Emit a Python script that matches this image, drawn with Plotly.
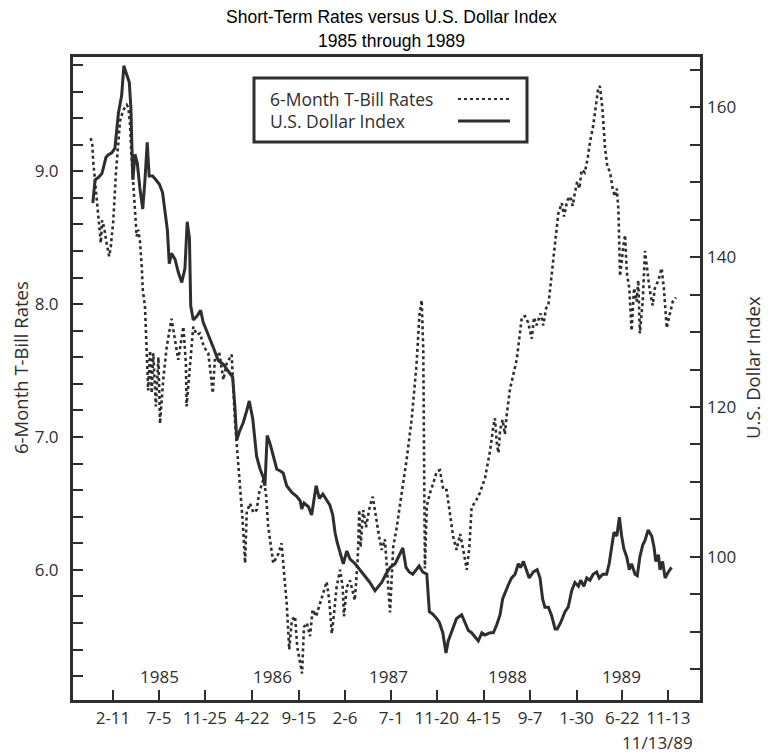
import plotly.graph_objects as go

# ---------------- data ----------------
dollar_dates = ["1984-12-10","1984-12-17","1984-12-27","1985-01-07","1985-01-12","1985-01-20","1985-01-27","1985-02-07","1985-02-17","1985-02-28","1985-03-10","1985-03-17","1985-03-26","1985-04-03","1985-04-08","1985-04-14","1985-04-21","1985-04-28","1985-05-06","1985-05-15","1985-05-22","1985-05-29","1985-06-04","1985-06-15","1985-06-25","1985-07-06","1985-07-16","1985-07-24","1985-07-31","1985-08-06","1985-08-13","1985-08-24","1985-09-03","1985-09-14","1985-09-24","1985-10-01","1985-10-08","1985-10-12","1985-10-20","1985-10-31","1985-11-12","1985-11-20","1985-12-01","1985-12-11","1985-12-22","1986-01-06","1986-01-22","1986-02-06","1986-02-20","1986-02-27","1986-03-05","1986-03-13","1986-03-25","1986-04-05","1986-04-13","1986-04-24","1986-05-06","1986-05-17","1986-05-27","1986-06-01","1986-06-08","1986-06-17","1986-06-27","1986-07-08","1986-07-18","1986-07-28","1986-08-08","1986-08-24","1986-09-08","1986-09-19","1986-09-24","1986-10-01","1986-10-15","1986-10-25","1986-11-08","1986-11-18","1986-11-29","1986-12-11","1986-12-21","1986-12-30","1987-01-06","1987-01-13","1987-01-22","1987-02-01","1987-02-12","1987-02-22","1987-03-10","1987-03-25","1987-04-10","1987-04-25","1987-05-11","1987-05-21","1987-06-01","1987-06-14","1987-06-27","1987-07-13","1987-07-26","1987-08-06","1987-08-16","1987-08-26","1987-09-06","1987-09-16","1987-09-26","1987-10-07","1987-10-20","1987-10-28","1987-11-07","1987-11-18","1987-11-28","1987-12-09","1987-12-19","1987-12-26","1988-01-09","1988-01-21","1988-02-06","1988-02-16","1988-02-27","1988-03-08","1988-03-19","1988-03-29","1988-04-09","1988-04-19","1988-05-05","1988-05-15","1988-05-26","1988-06-05","1988-06-13","1988-06-20","1988-07-01","1988-07-11","1988-07-22","1988-08-01","1988-08-08","1988-08-17","1988-08-27","1988-09-04","1988-09-17","1988-09-29","1988-10-08","1988-10-16","1988-10-23","1988-11-03","1988-11-13","1988-11-24","1988-12-01","1988-12-12","1988-12-25","1989-01-04","1989-01-15","1989-01-25","1989-02-05","1989-02-12","1989-02-22","1989-03-03","1989-03-13","1989-03-23","1989-04-03","1989-04-11","1989-04-22","1989-05-04","1989-05-12","1989-05-20","1989-05-27","1989-06-05","1989-06-13","1989-06-20","1989-06-27","1989-07-06","1989-07-14","1989-07-21","1989-08-01","1989-08-08","1989-08-16","1989-08-25","1989-09-01","1989-09-11","1989-09-22","1989-09-29","1989-10-05","1989-10-13","1989-10-18","1989-10-26","1989-11-03","1989-11-13","1989-11-23"]
dollar_index = [147.2,150.3,150.6,151.1,151.9,153.3,153.6,153.9,154.5,159.2,161.5,165.5,164.3,163.3,159.8,150.3,153.7,152.5,149.2,146.4,150.3,155.3,150.8,150.8,150.3,149.7,148.6,145.8,143.6,139.1,140.5,139.7,138.0,136.6,138.5,144.7,142.5,133.5,131.6,132.1,132.9,131.3,130.2,129.0,127.9,126.2,125.7,124.8,124.0,120.1,115.6,116.7,117.9,119.5,120.8,118.4,113.4,111.7,110.6,109.5,116.2,115.1,113.4,111.7,111.5,111.2,109.5,108.6,108.1,107.5,106.4,107.2,106.7,105.6,109.5,107.8,108.4,107.5,106.9,105.6,103.3,101.9,100.5,99.1,100.8,99.7,99.1,98.3,97.5,96.6,95.5,96.1,96.6,97.7,98.6,99.1,100.3,101.2,98.6,98.0,97.7,98.3,98.8,98.0,97.7,92.7,92.4,91.9,91.3,89.9,87.2,88.8,90.5,91.8,92.3,91.3,90.2,89.9,89.4,88.8,89.9,89.6,89.9,89.9,91.0,92.3,94.4,95.2,96.3,97.2,97.7,99.1,98.6,99.4,98.3,97.2,98.0,98.3,97.2,94.4,93.3,93.3,92.2,90.4,90.4,91.3,92.7,93.3,95.5,96.6,96.1,96.9,96.1,97.2,96.9,97.7,98.0,97.2,97.7,97.7,99.1,101.6,103.3,102.8,105.3,102.8,101.1,100.0,98.3,99.1,97.7,97.5,100.0,101.6,102.2,103.6,102.8,101.4,99.4,100.3,98.3,99.4,97.2,98.0,98.6]

tbill_dates = ["1984-12-03","1984-12-08","1984-12-11","1984-12-17","1984-12-24","1984-12-30","1985-01-04","1985-01-08","1985-01-14","1985-01-22","1985-01-30","1985-02-04","1985-02-12","1985-02-20","1985-02-28","1985-03-05","1985-03-15","1985-03-26","1985-03-31","1985-04-05","1985-04-10","1985-04-15","1985-04-21","1985-04-26","1985-05-01","1985-05-06","1985-05-12","1985-05-15","1985-05-22","1985-05-27","1985-06-01","1985-06-07","1985-06-12","1985-06-17","1985-06-25","1985-07-03","1985-07-08","1985-07-18","1985-07-29","1985-08-13","1985-08-24","1985-09-03","1985-09-19","1985-09-27","1985-09-29","1985-10-10","1985-10-20","1985-10-31","1985-11-10","1985-11-22","1985-12-06","1985-12-20","1985-12-27","1986-01-09","1986-01-22","1986-02-01","1986-02-17","1986-02-27","1986-03-10","1986-03-23","1986-03-31","1986-04-05","1986-04-15","1986-04-26","1986-05-06","1986-05-14","1986-05-27","1986-06-04","1986-06-11","1986-06-17","1986-06-27","1986-07-13","1986-07-23","1986-07-31","1986-08-08","1986-08-16","1986-08-24","1986-09-03","1986-09-10","1986-09-19","1986-09-25","1986-10-01","1986-10-10","1986-10-20","1986-10-28","1986-11-08","1986-11-20","1986-11-30","1986-12-11","1986-12-19","1986-12-27","1987-01-03","1987-01-11","1987-01-22","1987-01-30","1987-02-03","1987-02-12","1987-02-22","1987-03-02","1987-03-09","1987-03-18","1987-03-23","1987-03-27","1987-04-04","1987-04-13","1987-04-25","1987-05-04","1987-05-14","1987-05-24","1987-06-01","1987-06-11","1987-06-22","1987-06-27","1987-07-07","1987-07-18","1987-08-02","1987-08-18","1987-09-03","1987-09-18","1987-09-27","1987-10-04","1987-10-09","1987-10-11","1987-10-14","1987-10-20","1987-10-30","1987-11-09","1987-11-20","1987-11-30","1987-12-11","1987-12-21","1987-12-31","1988-01-11","1988-01-21","1988-02-01","1988-02-11","1988-02-22","1988-03-01","1988-03-08","1988-03-22","1988-04-03","1988-04-19","1988-05-05","1988-05-15","1988-05-20","1988-05-26","1988-05-31","1988-06-05","1988-06-13","1988-06-20","1988-06-26","1988-07-06","1988-07-16","1988-07-27","1988-08-04","1988-08-12","1988-08-22","1988-09-01","1988-09-12","1988-09-19","1988-09-27","1988-10-10","1988-10-18","1988-10-27","1988-11-03","1988-11-13","1988-11-24","1988-12-04","1988-12-15","1988-12-22","1989-01-01","1989-01-10","1989-01-18","1989-01-25","1989-02-01","1989-02-08","1989-02-15","1989-02-25","1989-03-06","1989-03-13","1989-03-23","1989-04-01","1989-04-08","1989-04-13","1989-04-21","1989-04-29","1989-05-06","1989-05-15","1989-05-23","1989-05-30","1989-06-05","1989-06-10","1989-06-15","1989-06-25","1989-07-01","1989-07-06","1989-07-14","1989-07-21","1989-07-29","1989-08-06","1989-08-11","1989-08-16","1989-08-25","1989-09-01","1989-09-06","1989-09-15","1989-09-25","1989-10-02","1989-10-13","1989-10-23","1989-10-30","1989-11-08","1989-11-18","1989-11-27","1989-12-07"]
tbill_rates = [9.25,9.21,9.08,8.93,8.73,8.58,8.46,8.63,8.58,8.46,8.36,8.43,8.63,8.98,9.26,9.38,9.46,9.50,9.48,9.36,9.11,8.93,8.68,8.51,8.56,8.48,8.28,8.11,7.98,7.68,7.35,7.65,7.33,7.63,7.23,7.60,7.10,7.43,7.68,7.89,7.73,7.58,7.83,7.55,7.23,7.55,7.83,7.77,7.78,7.68,7.63,7.33,7.60,7.64,7.43,7.55,7.62,7.13,6.78,6.38,6.05,6.43,6.50,6.43,6.45,6.58,6.68,6.58,6.33,6.23,6.05,6.12,6.20,5.97,5.75,5.40,5.62,5.65,5.42,5.30,5.22,5.57,5.60,5.50,5.70,5.65,5.75,5.82,5.91,5.77,5.52,5.67,5.87,6.00,5.87,5.65,5.87,5.92,5.85,5.77,6.08,6.45,6.17,6.45,6.32,6.48,6.55,6.39,6.25,6.15,6.23,5.85,5.68,6.17,6.32,6.57,6.83,7.14,7.55,7.92,8.03,7.65,7.10,6.01,6.48,6.58,6.65,6.74,6.75,6.60,6.60,6.42,6.24,6.15,6.27,6.15,6.00,6.17,6.47,6.52,6.58,6.69,6.90,7.08,7.14,6.95,6.88,7.05,7.13,7.02,7.17,7.36,7.46,7.58,7.74,7.90,7.91,7.86,7.74,7.90,7.84,7.93,7.84,7.97,7.99,8.24,8.46,8.68,8.76,8.66,8.78,8.81,8.74,8.84,8.92,8.87,9.01,8.99,9.10,9.22,9.34,9.50,9.63,9.64,9.47,9.18,9.04,8.99,8.87,8.81,8.87,8.71,8.21,8.43,8.52,8.24,8.12,7.80,8.12,8.02,8.18,7.78,8.02,8.40,8.30,8.12,7.99,8.12,8.18,8.27,8.12,7.82,7.93,8.02,8.05]

assert len(dollar_dates) == len(dollar_index)
assert len(tbill_dates) == len(tbill_rates)

x_tick_dates = ["1985-02-11","1985-07-05","1985-11-25","1986-04-22","1986-09-15","1987-02-06","1987-07-01",
                "1987-11-20","1988-04-15","1988-09-07","1989-01-30","1989-06-22","1989-11-13"]
x_tick_labels = ["2-11","7-5","11-25","4-22","9-15","2-6","7-1","11-20","4-15","9-7","1-30","6-22","11-13"]
year_labels = ["1985","1986","1987","1988","1989"]
year_label_dates = ["1985-07-05","1986-06-26","1987-06-21","1988-06-27","1989-06-21"]
left_ticks = [6.0, 7.0, 8.0, 9.0]
right_ticks = [100, 120, 140, 160]

INK = "#2e2e2e"
SANS = "Open Sans, Noto Sans, sans-serif"
TICK_FONT = dict(family=SANS, size=17, color=INK)
AXIS_TITLE_FONT = dict(family=SANS, size=18.5, color=INK)

fig = go.Figure()
fig.add_trace(go.Scatter(x=tbill_dates, y=tbill_rates, mode="lines", name="6-Month T-Bill Rates",
                         line=dict(color=INK, width=2.6, dash="dot"), yaxis="y"))
fig.add_trace(go.Scatter(x=dollar_dates, y=dollar_index, mode="lines", name="U.S. Dollar Index",
                         line=dict(color=INK, width=3), yaxis="y2"))

fig.update_layout(
    width=771, height=756,
    margin=dict(l=73, r=71, t=57, b=56, autoexpand=False),
    paper_bgcolor="white", plot_bgcolor="white",
    showlegend=False,
    xaxis=dict(type="date", range=["1984-10-09", "1990-02-20"],
               tickmode="array", tickvals=x_tick_dates, ticktext=x_tick_labels,
               ticks="inside", ticklen=10, tickwidth=2, tickcolor=INK,
               showline=True, linewidth=3, linecolor=INK, mirror=True,
               showgrid=False, zeroline=False, tickfont=TICK_FONT, ticklabelstandoff=1),
    yaxis=dict(range=[5.02, 9.86], tickmode="array", tickvals=left_ticks, tickformat=".1f",
               ticks="inside", ticklen=10, tickwidth=2, tickcolor=INK,
               minor=dict(tickmode="linear", tick0=5.0, dtick=0.2, ticks="inside", ticklen=10,
                          tickwidth=2, tickcolor=INK, showgrid=False),
               showline=True, linewidth=3, linecolor=INK, mirror=True,
               showgrid=False, zeroline=False, tickfont=TICK_FONT, ticklabelstandoff=8),
    yaxis2=dict(range=[80.93, 166.67], overlaying="y", side="right",
                tickmode="array", tickvals=right_ticks,
                ticks="inside", ticklen=10, tickwidth=2, tickcolor=INK,
                minor=dict(tickmode="linear", tick0=80, dtick=5, ticks="inside", ticklen=10,
                           tickwidth=2, tickcolor=INK, showgrid=False),
                showline=False, showgrid=False, zeroline=False, tickfont=TICK_FONT, ticklabelstandoff=6),
)

def px(xp):
    return (xp - 73) / 627

def py(yp):
    return (700 - yp) / 643

# Axis titles (placed as in the original)
fig.add_annotation(text="6-Month T-Bill Rates", xref="paper", yref="paper", x=px(20), y=py(368),
                   textangle=-90, xanchor="center", yanchor="middle", showarrow=False,
                   font=AXIS_TITLE_FONT)
fig.add_annotation(text="U.S. Dollar Index", xref="paper", yref="paper", x=px(752), y=py(368),
                   textangle=-90, xanchor="center", yanchor="middle", showarrow=False,
                   font=AXIS_TITLE_FONT)

# Titles
TITLE_FONT = dict(family="Liberation Sans Narrow, Arial Narrow, Liberation Sans, Arial, sans-serif",
                  size=17.5, color="black")
fig.add_annotation(text="Short-Term Rates versus U.S. Dollar Index", xref="paper", yref="paper",
                   x=px(391), y=py(17), xanchor="center", yanchor="middle",
                   showarrow=False, font=TITLE_FONT)
fig.add_annotation(text="1985 through 1989", xref="paper", yref="paper",
                   x=px(391), y=py(41), xanchor="center", yanchor="middle",
                   showarrow=False, font=TITLE_FONT)

# Year labels inside the plot
for yr, d in zip(year_labels, year_label_dates):
    fig.add_annotation(text=yr, x=d, y=5.2, xref="x", yref="y", showarrow=False,
                       xanchor="center", yanchor="middle", font=TICK_FONT)

# End-date note below the axis
fig.add_annotation(text="11/13/89", xref="paper", yref="paper", x=px(695), y=py(742),
                   xanchor="right", yanchor="middle", showarrow=False, font=TICK_FONT)

# Legend box (text on the left, line sample on the right, as in the original)
fig.add_shape(type="rect", xref="paper", yref="paper", x0=px(254), x1=px(527), y0=py(142), y1=py(78),
              line=dict(color=INK, width=3), fillcolor="white", layer="above")
LEG_FONT = dict(family=SANS, size=17.5, color=INK)
fig.add_annotation(text="6-Month T-Bill Rates", xref="paper", yref="paper", x=px(268), y=py(99),
                   xanchor="left", yanchor="middle", showarrow=False, font=LEG_FONT)
fig.add_annotation(text="U.S. Dollar Index", xref="paper", yref="paper", x=px(268), y=py(121),
                   xanchor="left", yanchor="middle", showarrow=False, font=LEG_FONT)
fig.add_shape(type="line", xref="paper", yref="paper", x0=px(458), x1=px(510), y0=py(99), y1=py(99),
              line=dict(color=INK, width=2, dash="dot"), layer="above")
fig.add_shape(type="line", xref="paper", yref="paper", x0=px(458), x1=px(510), y0=py(121), y1=py(121),
              line=dict(color=INK, width=3), layer="above")

fig.write_html("out.html", config={"displayModeBar": False},
               post_script="document.body.style.margin='0px';document.body.style.overflow='hidden';")
